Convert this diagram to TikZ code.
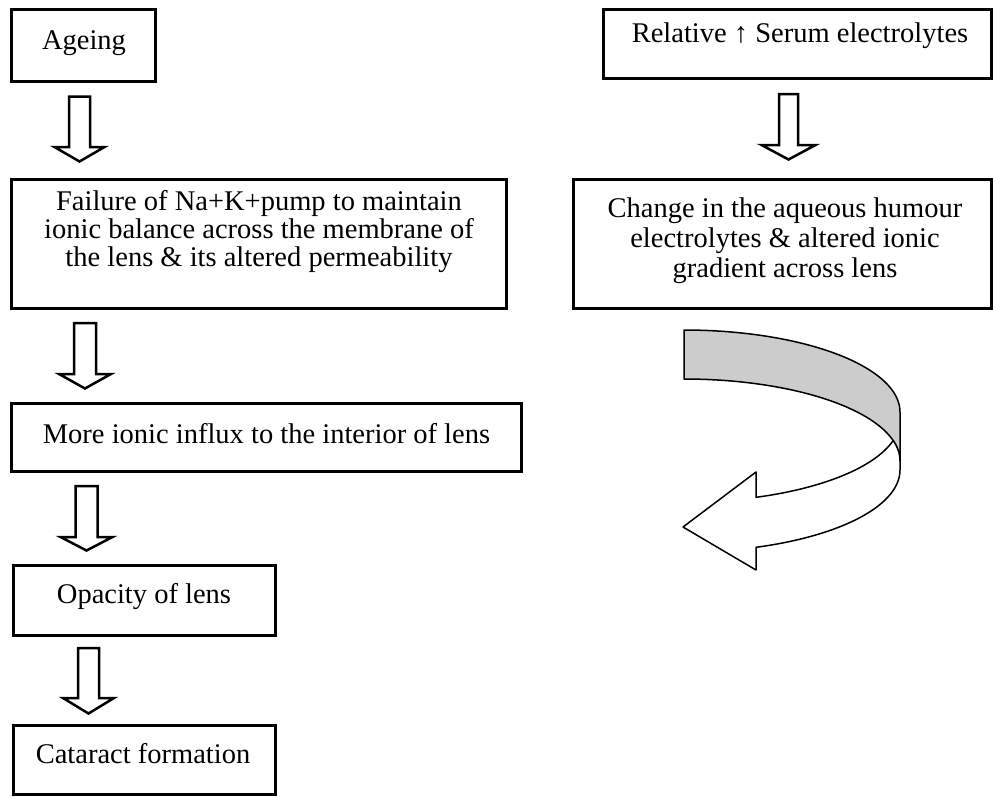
\documentclass[tikz,border=0pt]{standalone}
\usepackage{fontspec}
\setmainfont{Liberation Serif}
\usetikzlibrary{calc}
\definecolor{bandgray}{HTML}{CCCCCC}
% cx, top, tip, shaft half width, head half width, head top
\newcommand\blockdown[6]{%
  \draw[blockline] ({#1-#4},#2) -- ({#1+#4},#2) -- ({#1+#4},#6) -- ({#1+#5},#6)
    -- (#1,#3) -- ({#1-#5},#6) -- ({#1-#4},#6) -- cycle;}
\begin{document}
\begin{tikzpicture}[x=1pt,y=-1pt,
  box/.style={draw=black, line width=3pt, fill=white, inner sep=0pt},
  txt/.style={inner sep=0pt, align=center, font=\fontsize{28.5}{29}\selectfont},
  blockline/.style={draw=black, line width=2.5pt, fill=white, line join=miter},
  ribbon/.style={draw=black, line width=1.5pt, line join=round}]
\useasboundingbox (0,0) rectangle (993,796);

% boxes
\node[box, minimum width=144, minimum height=72] (ageing) at (83.5,45.5) {};
\node[box, minimum width=388, minimum height=69] (serum) at (797.5,44) {};
\node[box, minimum width=495, minimum height=129] (failure) at (259,244) {};
\node[box, minimum width=418, minimum height=129] (change) at (782.5,244) {};
\node[box, minimum width=510, minimum height=68] (influx) at (266.5,437.5) {};
\node[box, minimum width=262, minimum height=70] (opacity) at (144.5,600.5) {};
\node[box, minimum width=262, minimum height=69] (cataract) at (144.5,760) {};

% texts
\node[txt, anchor=base] (ageingt) at (84,49) {Ageing};
\node[txt, anchor=base] (serumt) at (800,42) {Relative ↑ Serum electrolytes};
\node[txt, anchor=north, font=\fontsize{28.5}{28}\selectfont] (failuret) at (259,190.5)
  {Failure of Na+K+pump to maintain\\ionic balance across the membrane of\\the lens \& its altered permeability};
\node[txt, anchor=north, font=\fontsize{28.5}{30}\selectfont] (changet) at (785,197.5)
  {Change in the aqueous humour\\electrolytes \& altered ionic\\gradient across lens};
\node[txt, anchor=base] (influxt) at (266.5,443) {More ionic influx to the interior of lens};
\node[txt, anchor=base] (opacityt) at (144,603) {Opacity of lens};
\node[txt, anchor=base] (cataractt) at (143,763) {Cataract formation};

% block arrows
\blockdown{79.5}{96.5}{161.5}{10.5}{25}{147}
\blockdown{85}{323}{388.5}{11}{26}{374}
\blockdown{86.5}{486}{550.5}{11}{26}{537}
\blockdown{88.5}{648}{713.5}{10.5}{25.5}{698}
\blockdown{788.5}{94}{159.5}{9.5}{27}{145}

% curved ribbon arrow
\draw[ribbon, fill=bandgray]
  plot[domain=-90:0, samples=45, variable=\t] ({684+216*cos(\t)}, {412+82*sin(\t)})
  -- (900,461)
  -- plot[domain=0:-90, samples=45, variable=\t] ({684+216*cos(\t)}, {461+82*sin(\t)})
  -- cycle;
\draw[ribbon, fill=white]
  plot[domain=14.48:70.53, samples=45, variable=\t] ({684+216*cos(\t)}, {420+82*sin(\t)})
  -- (756,472) -- (683,527) -- (756,570) -- (756,547.3)
  -- plot[domain=70.53:0, samples=45, variable=\t] ({684+216*cos(\t)}, {470+82*sin(\t)})
  -- (900,461)
  -- plot[domain=0:-14.48, samples=20, variable=\t] ({684+216*cos(\t)}, {461+82*sin(\t)})
  -- cycle;
\end{tikzpicture}
\end{document}
